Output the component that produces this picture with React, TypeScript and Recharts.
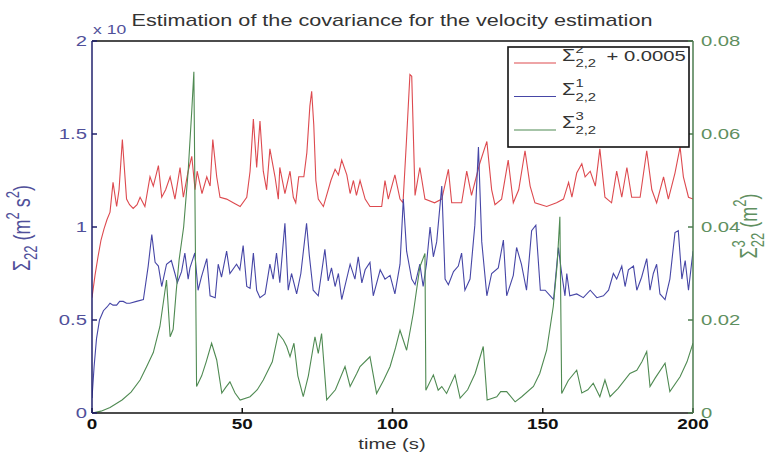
import { LineChart, Line, XAxis, YAxis, Legend } from "recharts"

const FONT = "'Liberation Sans', Arial, Helvetica, sans-serif"
const SX = 1.35

const xTicks = [0, 50, 100, 150, 200]
const leftTicks = [0, 0.5, 1, 1.5, 2]
const rightTicks = [0, 0.02, 0.04, 0.06, 0.08]

// Sigma^2_{2,2} + 0.0005 (x 1e-3)
const redTime = [0, 1, 2, 3, 4, 5, 6, 7, 8.2, 9, 10.1, 11.5, 12.5, 13.7, 15, 16, 17.6, 19.3, 20.4, 22.1, 23.2, 24.5, 26, 27.6, 29.3, 30.4, 32, 33.2, 34.3, 35, 36.6, 38.2, 39.3, 40.2, 41.5, 42.6, 44.8, 47, 49.3, 51.5, 52.6, 53.7, 54.8, 55.9, 57, 58.1, 59.2, 60.9, 62, 62.5, 64.2, 65.9, 67, 67.8, 68.8, 70.5, 71.5, 72.5, 73.1, 73.8, 74.5, 75.3, 77, 79.5, 80.9, 82, 83.1, 84.8, 85.9, 87, 88, 89.2, 90.9, 92.5, 94.5, 96.4, 97.5, 98.6, 100.8, 102.5, 103.5, 104.6, 105.8, 106.4, 107.5, 109.1, 110.8, 114, 116.4, 118.6, 119.7, 123, 124.7, 126.3, 129, 131.4, 133, 134.1, 136.3, 138.5, 140.2, 142, 144.1, 145.8, 147.4, 151.3, 154.6, 156.9, 158.6, 159.7, 161.3, 163, 164.1, 165.8, 167.5, 169, 170.7, 172.9, 174.6, 176.3, 178, 179.6, 182.4, 184.6, 186.3, 187.9, 190.2, 191.8, 194, 195.7, 196.8, 198.5, 200]
const redValue = [0.62, 0.74, 0.84, 0.93, 0.99, 1.04, 1.08, 1.24, 1.11, 1.2, 1.47, 1.15, 1.12, 1.1, 1.12, 1.16, 1.11, 1.27, 1.22, 1.33, 1.16, 1.2, 1.27, 1.15, 1.32, 1.16, 1.3, 1.38, 1.2, 1.3, 1.18, 1.27, 1.22, 1.47, 1.27, 1.16, 1.15, 1.13, 1.11, 1.16, 1.3, 1.58, 1.32, 1.57, 1.3, 1.2, 1.42, 1.27, 1.15, 1.32, 1.18, 1.3, 1.16, 1.13, 1.27, 1.27, 1.4, 1.65, 1.73, 1.55, 1.25, 1.15, 1.11, 1.25, 1.31, 1.28, 1.36, 1.28, 1.18, 1.25, 1.17, 1.25, 1.15, 1.11, 1.11, 1.11, 1.25, 1.15, 1.28, 1.15, 1.13, 1.45, 1.82, 1.81, 1.17, 1.32, 1.15, 1.13, 1.15, 1.31, 1.13, 1.13, 1.3, 1.17, 1.34, 1.46, 1.2, 1.12, 1.15, 1.36, 1.13, 1.2, 1.41, 1.22, 1.13, 1.11, 1.13, 1.15, 1.24, 1.16, 1.29, 1.34, 1.27, 1.3, 1.22, 1.42, 1.16, 1.13, 1.3, 1.16, 1.32, 1.16, 1.16, 1.41, 1.2, 1.13, 1.27, 1.15, 1.29, 1.43, 1.27, 1.16, 1.15]

// Sigma^1_{2,2} (x 1e-3)
const blueTime = [0, 0.7, 1.5, 2.5, 3.8, 5, 6, 7, 8.2, 9.2, 10.4, 11.5, 12.6, 14.8, 17.1, 18.7, 19.9, 21, 22.1, 23.2, 24.8, 26.4, 27.6, 28.4, 29.8, 30.9, 32, 32.6, 34.2, 35.3, 36.4, 38.2, 39.3, 41, 42, 43.1, 44.8, 45.9, 48.1, 49.2, 50.3, 51.5, 52.6, 53.7, 54.8, 55.9, 57.6, 59.2, 60.3, 61.4, 62.5, 64.2, 65.3, 66.4, 68.1, 69.5, 71.4, 72.3, 73.6, 75.3, 77.5, 78.6, 79.7, 80.9, 82, 83.1, 85.9, 87.5, 88.6, 89.8, 90.9, 92.5, 93.6, 95.9, 97.5, 99.2, 100.8, 102.5, 103.6, 104.7, 106.4, 107.5, 109.1, 110.2, 111.3, 112.5, 113.6, 114.7, 116.4, 117.5, 118.6, 120.3, 121.9, 123, 124.1, 125.8, 127.4, 128.6, 129.7, 131.4, 133, 135.2, 136.9, 138, 140.2, 141.3, 142.9, 144.6, 146.3, 147.7, 149.2, 150.8, 152.5, 153.6, 155.2, 156.3, 157.4, 158, 159, 161.3, 163.5, 165.8, 168, 170.2, 171.9, 173.5, 174.6, 176.3, 177.4, 178.5, 180.2, 181.3, 182.9, 184.6, 185.7, 186.8, 187.9, 189, 190.7, 192.3, 194, 195.1, 196.3, 197.4, 198.5, 200]
const blueValue = [0.08, 0.25, 0.4, 0.5, 0.55, 0.57, 0.59, 0.58, 0.58, 0.6, 0.6, 0.59, 0.59, 0.6, 0.61, 0.79, 0.96, 0.81, 0.79, 0.68, 0.8, 0.82, 0.75, 0.7, 0.76, 0.86, 0.72, 0.78, 0.86, 0.66, 0.73, 0.83, 0.63, 0.62, 0.8, 0.73, 0.87, 0.75, 0.8, 0.77, 0.9, 0.68, 0.67, 0.86, 0.66, 0.62, 0.64, 0.8, 0.72, 0.86, 0.7, 1.02, 0.66, 0.75, 0.64, 0.75, 1.02, 0.85, 0.66, 0.63, 0.88, 0.71, 0.78, 0.68, 0.75, 0.61, 0.8, 0.72, 0.84, 0.7, 0.77, 0.81, 0.63, 0.77, 0.72, 0.74, 0.64, 0.8, 1.15, 0.87, 0.72, 0.69, 0.8, 0.68, 0.8, 1.0, 0.84, 0.92, 1.22, 0.72, 0.69, 0.76, 0.79, 0.86, 0.66, 0.72, 1.01, 1.43, 0.92, 0.63, 0.75, 0.78, 0.93, 0.63, 0.74, 0.89, 0.8, 0.66, 0.98, 1.01, 0.66, 0.66, 0.63, 0.61, 0.89, 0.75, 0.63, 0.75, 0.63, 0.64, 0.62, 0.66, 0.62, 0.63, 0.66, 0.75, 0.72, 0.79, 0.68, 0.77, 0.79, 0.66, 0.73, 0.83, 0.66, 0.75, 0.8, 0.64, 0.61, 0.72, 0.97, 0.98, 0.72, 0.82, 0.66, 0.87]

// Sigma^3_{2,2} (m^2), right axis
const greenTime = [0, 3, 6, 10, 13, 16, 18.2, 20.4, 22.6, 24.8, 26, 27, 28, 29, 30.5, 32, 33.2, 33.9, 34.8, 36.5, 38, 39.8, 41.5, 43.2, 44.5, 45.9, 47.6, 49.3, 52.6, 55, 57, 60, 62, 63.7, 64.8, 65.9, 67.2, 68.5, 70.3, 72, 74.2, 75.3, 76.4, 78.1, 81, 84.2, 85.9, 88.1, 89.2, 92.5, 94.7, 97, 99.2, 101, 102.5, 104.7, 106.9, 109.1, 110.8, 111.1, 113.6, 115.2, 116.4, 118, 120.8, 122.5, 125, 127.5, 130.2, 131.5, 134.7, 136, 138, 140.8, 143, 146.9, 149, 151.3, 153.5, 154.8, 155.7, 156.3, 158.5, 161.3, 163, 165, 166.8, 169, 170.7, 172.4, 175.1, 179, 181.3, 183, 184.6, 185.7, 187.4, 190.7, 192.3, 195.7, 198, 200]
const greenValue = [0, 0.0004, 0.0012, 0.0028, 0.0045, 0.0071, 0.01, 0.013, 0.0186, 0.0286, 0.0164, 0.018, 0.026, 0.033, 0.04, 0.052, 0.065, 0.0734, 0.0057, 0.008, 0.011, 0.015, 0.0114, 0.0043, 0.0055, 0.0067, 0.0043, 0.0028, 0.0035, 0.005, 0.0071, 0.011, 0.0171, 0.0157, 0.0143, 0.0121, 0.015, 0.008, 0.0035, 0.008, 0.0164, 0.0128, 0.0171, 0.0028, 0.005, 0.01, 0.0057, 0.0085, 0.01, 0.0121, 0.0042, 0.007, 0.01, 0.014, 0.0178, 0.0135, 0.0214, 0.0314, 0.0343, 0.0049, 0.0082, 0.0049, 0.0057, 0.0042, 0.0082, 0.0032, 0.005, 0.0085, 0.0143, 0.0028, 0.0035, 0.0046, 0.0046, 0.0024, 0.0035, 0.0057, 0.0085, 0.0135, 0.0229, 0.032, 0.0422, 0.0042, 0.007, 0.0092, 0.0043, 0.005, 0.0064, 0.0035, 0.0071, 0.0035, 0.0053, 0.0085, 0.0092, 0.011, 0.0132, 0.0057, 0.0075, 0.0107, 0.0046, 0.0078, 0.011, 0.015]

const redData = redTime.map((t, i) => ({ t, s2: redValue[i] }))
const blueData = blueTime.map((t, i) => ({ t, s1: blueValue[i] }))
const greenData = greenTime.map((t, i) => ({ t, s3: greenValue[i] }))

// legend rows, top to bottom
const legendOrder = ["s2", "s1", "s3"]
const legendLabels: Record<string, { sup: string; sub: string; tail?: string }> = {
  s2: { sup: "2", sub: "2,2", tail: "+ 0.0005" },
  s1: { sup: "1", sub: "2,2" },
  s3: { sup: "3", sub: "2,2" },
}

const RED = "#dd4a4f"
const BLUE = "#4646a6"
const GREEN = "#4f8a52"
const NAVY = "#22226e"
const LEFT_TXT = "#50509a"
const RIGHT_TXT = "#5f8f60"
const RIGHT_AX = "#4d7d4f"

const fmtLeft = (v: number) => String(v)
const fmtRight = (v: number) => (v === 0 ? "0" : v.toFixed(2))

function TickText(props: any) {
  const { x, y, payload, anchor, fill, size, weight, dy, fmt } = props
  return (
    <g transform={`translate(${x},${y}) scale(${SX},1)`}>
      <text x={0} y={0} dy={dy} textAnchor={anchor} fill={fill} fontSize={size} fontWeight={weight} fontFamily={FONT}>
        {fmt(payload.value)}
      </text>
    </g>
  )
}

function renderLegend(props: any) {
  const payload = props.payload || []
  const colorOf = (key: string) => {
    const e = payload.find((p: any) => p.dataKey === key)
    return e ? e.color : "#000"
  }
  return (
    <svg width={183} height={102} style={{ display: "block" }}>
      <rect x={1} y={1} width={181} height={100} fill="#fff" stroke="#111" strokeWidth={1.6} />
      {legendOrder.map((key, i) => {
        const lab = legendLabels[key]
        const ly = 17 + i * 33.5
        return (
          <g key={key}>
            <line x1={7} x2={49} y1={ly} y2={ly} stroke={colorOf(key)} strokeWidth={1.2} />
            <g transform={`translate(55,${ly - 2}) scale(${SX},1)`} fill="#333" fontFamily={FONT}>
              <text x={0} y={0} fontSize={16}>Σ</text>
              <text x={10} y={-8} fontSize={11}>{lab.sup}</text>
              <text x={10} y={6} fontSize={11}>{lab.sub}</text>
              {lab.tail && <text x={33} y={0} fontSize={15}>{lab.tail}</text>}
            </g>
          </g>
        )
      })}
    </svg>
  )
}

export default function App() {
  return (
    <div style={{ position: "absolute", left: 0, top: 0, width: 773, height: 453, background: "#fff" }}>
      <LineChart width={773} height={453} margin={{ top: 31, right: 20, bottom: 10, left: 32 }}>
        <XAxis
          dataKey="t"
          type="number"
          domain={[0, 200]}
          ticks={xTicks}
          allowDataOverflow
          height={30}
          axisLine={{ stroke: "#111", strokeWidth: 1.5 }}
          tickLine={{ stroke: "#111", strokeWidth: 1.5 }}
          tickSize={-5}
          tickMargin={16}
          tick={<TickText anchor="middle" fill="#111" size={14} weight="bold" dy="0.35em" fmt={fmtLeft} />}
        />
        <XAxis
          xAxisId="top"
          orientation="top"
          type="number"
          domain={[0, 200]}
          ticks={xTicks}
          allowDataOverflow
          height={10}
          axisLine={{ stroke: "#111", strokeWidth: 1.5 }}
          tickLine={{ stroke: "#111", strokeWidth: 1.5 }}
          tickSize={-5}
          tick={() => <g />}
        />
        <YAxis
          yAxisId="left"
          orientation="left"
          width={60}
          type="number"
          domain={[0, 2]}
          ticks={leftTicks}
          allowDataOverflow
          axisLine={{ stroke: NAVY, strokeWidth: 1.5 }}
          tickLine={{ stroke: NAVY, strokeWidth: 1.5 }}
          tickSize={-5}
          tickMargin={10}
          tick={<TickText anchor="end" fill={LEFT_TXT} size={15} dy="0.35em" fmt={fmtLeft} />}
        />
        <YAxis
          yAxisId="right"
          orientation="right"
          width={60}
          type="number"
          domain={[0, 0.08]}
          ticks={rightTicks}
          allowDataOverflow
          axisLine={{ stroke: RIGHT_AX, strokeWidth: 1.5 }}
          tickLine={{ stroke: RIGHT_AX, strokeWidth: 1.5 }}
          tickSize={-5}
          tickMargin={13}
          tick={<TickText anchor="start" fill={RIGHT_TXT} size={15} dy="0.35em" fmt={fmtRight} />}
        />
        <Line data={redData} dataKey="s2" yAxisId="left" type="linear" stroke={RED} strokeWidth={1.1} dot={false} isAnimationActive={false} />
        <Line data={blueData} dataKey="s1" yAxisId="left" type="linear" stroke={BLUE} strokeWidth={1.1} dot={false} isAnimationActive={false} />
        <Line data={greenData} dataKey="s3" yAxisId="right" type="linear" stroke={GREEN} strokeWidth={1.1} dot={false} isAnimationActive={false} />
        <Legend
          layout="vertical"
          align="center"
          verticalAlign="middle"
          content={renderLegend}
          wrapperStyle={{ left: 507, top: 46, width: 183, height: 102 }}
        />
      </LineChart>
      <svg width={773} height={453} style={{ position: "absolute", left: 0, top: 0, pointerEvents: "none" }} fontFamily={FONT}>
        <g transform={`translate(392,26) scale(${SX},1)`}>
          <text textAnchor="middle" fontSize={16} fill="#333">Estimation of the covariance for the velocity estimation</text>
        </g>
        <g transform={`translate(93,34) scale(${SX},1)`}>
          <text fontSize={13} fill={LEFT_TXT}>x 10</text>
        </g>
        <g transform={`translate(392,449) scale(${SX},1)`}>
          <text textAnchor="middle" fontSize={15} fill="#333">time (s)</text>
        </g>
        <g transform={`translate(30,228) scale(${SX},1) rotate(-90)`}>
          <text textAnchor="middle" fontSize={18} fill={LEFT_TXT}>
            Σ<tspan dy={5} fontSize={13}>22</tspan>
            <tspan dy={-5}> (m</tspan>
            <tspan dy={-8} fontSize={13}>2</tspan>
            <tspan dy={8}> s</tspan>
            <tspan dy={-8} fontSize={13}>2</tspan>
            <tspan dy={8}>)</tspan>
          </text>
        </g>
        <g transform={`translate(757,226) scale(${SX},1) rotate(-90)`}>
          <text textAnchor="middle" fontSize={18} fill={RIGHT_TXT}>
            Σ<tspan dy={-9} fontSize={13}>3</tspan>
            <tspan dx={-7} dy={14} fontSize={13}>22</tspan>
            <tspan dy={-5}> (m</tspan>
            <tspan dy={-8} fontSize={13}>2</tspan>
            <tspan dy={8}>)</tspan>
          </text>
        </g>
      </svg>
    </div>
  )
}
